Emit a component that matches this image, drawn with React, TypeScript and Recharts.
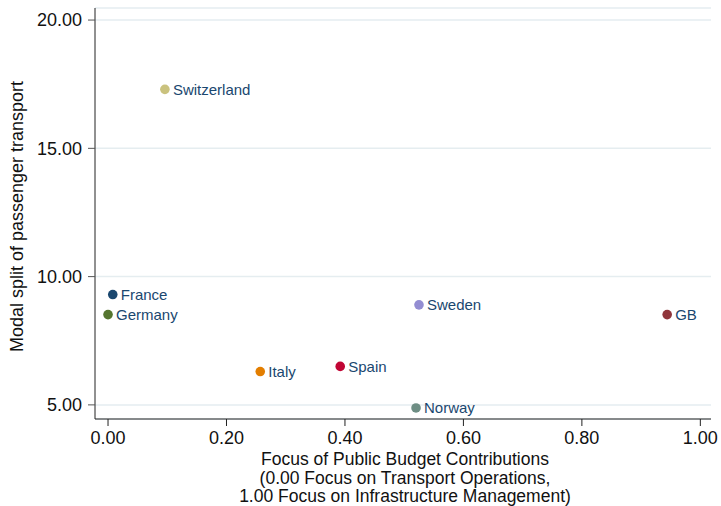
import { ScatterChart, Scatter, XAxis, YAxis, CartesianGrid } from "recharts";

// country, focus of budget contributions, modal split
const countries = ["Switzerland", "France", "Germany", "Italy", "Spain", "Sweden", "Norway", "GB"];
const budgetFocus = [0.096, 0.008, 0.0, 0.257, 0.392, 0.525, 0.52, 0.944];
const modalSplit = [17.3, 9.3, 8.52, 6.3, 6.5, 8.9, 4.88, 8.52];
const markerColors = ["#cac27e", "#1a476f", "#55752f", "#e37e00", "#c10534", "#938dd2", "#6e8e84", "#90353b"];

const xTicks = [0, 0.2, 0.4, 0.6, 0.8, 1.0];
const yTicks = [5, 10, 15, 20];

const xTitle = [
  "Focus of Public Budget Contributions",
  "(0.00 Focus on Transport Operations,",
  "1.00 Focus on Infrastructure Management)",
];
const yTitle = "Modal split of passenger transport";

const points = countries.map((name, i) => ({
  name,
  x: budgetFocus[i],
  y: modalSplit[i],
  color: markerColors[i],
}));

const FONT = '"Liberation Sans", Arial, sans-serif';

// marker + text label to the right, like Stata's mlabel
function Marker(props: any) {
  const { cx, cy, payload } = props;
  return (
    <g>
      <circle cx={cx} cy={cy} r={4.8} fill={payload.color} />
      <text x={cx + 8} y={cy} dy="0.36em" fontSize={15} fill="#1a476f" fontFamily={FONT}>
        {payload.name}
      </text>
    </g>
  );
}

export default function App() {
  return (
    <div style={{ position: "absolute", left: 0, top: 0, background: "#fff" }}>
      <ScatterChart width={721} height={506} margin={{ top: 8, right: 10, bottom: 0, left: 0 }}>
        <CartesianGrid vertical={false} stroke="#e5edf0" strokeWidth={1.5} />
        <XAxis
          type="number"
          dataKey="x"
          domain={[-0.022, 1.018]}
          ticks={xTicks}
          tickFormatter={(v: number) => v.toFixed(2)}
          height={87}
          tickSize={7}
          tickMargin={5}
          tick={{ fontSize: 18, fill: "#111", fontFamily: FONT }}
          axisLine={{ stroke: "#222" }}
          tickLine={{ stroke: "#222" }}
          label={{
            content: (p: any) => {
              const vb = p.viewBox;
              const cx = vb.x + vb.width / 2 + 2;
              return (
                <text textAnchor="middle" fontSize={17.5} fill="#111" fontFamily={FONT}>
                  {xTitle.map((line, i) => (
                    <tspan key={i} x={cx} y={465 + i * 18.5}>
                      {line}
                    </tspan>
                  ))}
                </text>
              );
            },
          }}
        />
        <YAxis
          type="number"
          dataKey="y"
          domain={[4.45, 20.47]}
          ticks={yTicks}
          tickFormatter={(v: number) => v.toFixed(2)}
          width={95}
          tickSize={7}
          tickMargin={6}
          tick={{ fontSize: 18, fill: "#111", fontFamily: FONT }}
          axisLine={{ stroke: "#222" }}
          tickLine={{ stroke: "#555" }}
          label={{
            content: (p: any) => {
              const vb = p.viewBox;
              const cy = vb.y + vb.height / 2 + 3;
              return (
                <text
                  x={23}
                  y={cy}
                  transform={`rotate(-90, 23, ${cy})`}
                  textAnchor="middle"
                  fontSize={18}
                  fill="#111"
                  fontFamily={FONT}
                >
                  {yTitle}
                </text>
              );
            },
          }}
        />
        <Scatter data={points} shape={Marker} isAnimationActive={false} />
      </ScatterChart>
    </div>
  );
}
